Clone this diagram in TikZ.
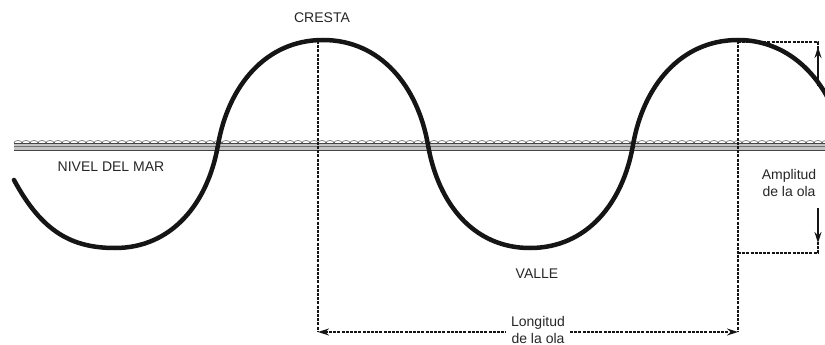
\documentclass[tikz,border=0pt]{standalone}
\usepackage{fontspec}
\setmainfont{Liberation Sans}
\usetikzlibrary{arrows.meta,positioning}
\definecolor{wvink}{HTML}{151515}
\definecolor{seagray}{HTML}{C4C4C4}
\definecolor{lbgray}{HTML}{262626}

\begin{document}
\begin{tikzpicture}[x=1pt,y=-1pt,>={Stealth[length=11pt,width=7pt]},
  lbl/.style={text=lbgray,font=\fontsize{14}{17}\selectfont,align=center,inner sep=5pt},
  dimline/.style={wvink,line width=1.5pt,dash pattern=on 3pt off 1.2pt},
  dimarrow/.style={wvink,line width=1.5pt,->}]

  \useasboundingbox (0,0) rectangle (825,345);
  \clip (0,0) rectangle (825,345);

  % sea level band
  \fill[seagray] (14,143) rectangle (825,150);
  \draw[wvink!80,line width=0.8pt] (14,143) -- (825,143);
  \draw[wvink!80,line width=0.8pt] (14,150) -- (825,150);
  \draw[wvink!60,line width=0.5pt] (14,146.5) -- (825,146.5);
  \foreach \i in {0,...,101}
    \draw[wvink!70,line width=0.6pt] (14+8*\i,143) arc (180:360:4 and 2.5);

  % the wave
  \draw[wvink,line width=4.5pt,line cap=round]
    (14,180) .. controls (42,232) and (72,248) .. (115,248)
    .. controls (172,248) and (208,203) .. (218,145)
    .. controls (228,87) and (265,40) .. (323,40)
    .. controls (381,40) and (418,87) .. (428,145)
    .. controls (438,203) and (473,248) .. (530,248)
    .. controls (587,248) and (623,203) .. (633,145)
    .. controls (643,87) and (680,40) .. (738,40)
    .. controls (790,40) and (830,80) .. (843,140);

  % reference points
  \coordinate (crestA) at (318,41);
  \coordinate (crestB) at (738,41);
  \coordinate (lenL) at (318,332);
  \coordinate (lenR) at (738,332);
  \coordinate (ampT) at (818,42);
  \coordinate (ampTa) at (818,86);
  \coordinate (ampB) at (818,253);
  \coordinate (ampBa) at (818,208);

  % labels
  \node[lbl] (cresta) at (322,18) {CRESTA};
  \node[lbl] (nivel) at (111,167) {NIVEL DEL MAR};
  \node[lbl] (valle) at (537,274) {VALLE};
  \node[lbl] (longitud) at (538,330) {Longitud\\de la ola};
  \node[lbl] (amplitud) at (789,183) {Amplitud\\de la ola};

  % wave length
  \draw[dimline] (crestA) -- (lenL);
  \draw[dimline] (crestB) -- (lenR);
  \draw[dimline,<-] (lenL) -- (longitud.west |- lenL);
  \draw[dimline,->] (longitud.east |- lenR) -- (lenR);

  % amplitude
  \draw[dimline] (crestB |- ampT) -- (ampT) -- ++(0,8);
  \draw[dimarrow,shorten >=5pt] (ampTa) -- (ampT);
  \draw[dimline] (crestB |- ampB) -- (ampB) -- ++(0,-12);
  \draw[dimarrow,shorten >=10pt] (ampBa) -- (ampB);

\end{tikzpicture}
\end{document}
